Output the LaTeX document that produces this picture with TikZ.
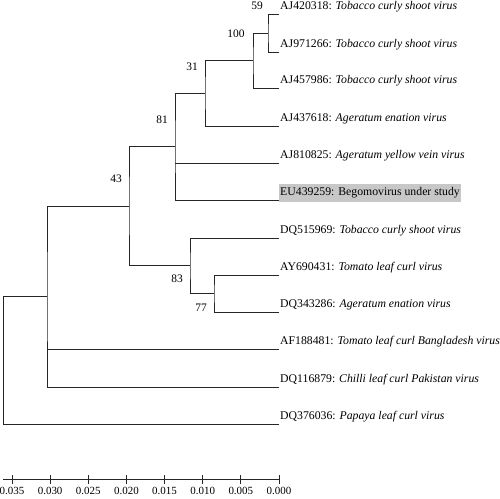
\documentclass[tikz,border=0pt]{standalone}
\usepackage{fontspec}
\setmainfont{Liberation Serif}
\usetikzlibrary{positioning}

\begin{document}
\begin{tikzpicture}[
  x=1bp, y=-1bp,
  font=\fontsize{11.8}{13}\selectfont,
  branch/.style={draw=black!85, line width=0.8bp},
  taxon/.style={anchor=base west, inner xsep=1bp, inner ysep=3.5bp,
                text height=8bp, text depth=2.5bp},
  study/.style={taxon, fill=black!22},
  boot/.style={inner sep=0pt, font=\fontsize{11.5}{13}\selectfont},
  ticklab/.style={inner sep=0pt, font=\fontsize{11}{13}\selectfont}]
\useasboundingbox (0,0) rectangle (500,499);
% leaves
\coordinate (l1) at (279,14);
\coordinate (l2) at (279,52);
\coordinate (l3) at (279,88);
\coordinate (l4) at (279,126);
\coordinate (l5) at (279,163);
\coordinate (l6) at (279,200);
\coordinate (l7) at (279,238);
\coordinate (l8) at (279,275);
\coordinate (l9) at (279,312);
\coordinate (l10) at (279,349);
\coordinate (l11) at (279,387);
\coordinate (l12) at (279,424);
% internal nodes
\coordinate (n59) at (268,33);
\coordinate (n100) at (253,60.5);
\coordinate (n31) at (205,93);
\coordinate (n81) at (175,146.5);
\coordinate (n77) at (214,293.5);
\coordinate (n83) at (190,265.75);
\coordinate (n43) at (129,206);
\coordinate (nA) at (47,296.5);
\coordinate (root) at (3.5,360);
% taxon labels
\node[taxon] (t1) at ([yshift=4.5bp]l1) {AJ420318: \textit{Tobacco curly shoot virus}};
\node[taxon] (t2) at ([yshift=4.5bp]l2) {AJ971266: \textit{Tobacco curly shoot virus}};
\node[taxon] (t3) at ([yshift=4.5bp]l3) {AJ457986: \textit{Tobacco curly shoot virus}};
\node[taxon] (t4) at ([yshift=4.5bp]l4) {AJ437618: \textit{Ageratum enation virus}};
\node[taxon] (t5) at ([yshift=4.5bp]l5) {AJ810825: \textit{Ageratum yellow vein virus}};
\node[study] (t6) at ([yshift=4.5bp]l6) {EU439259: Begomovirus under study\hspace{5bp}};
\node[taxon] (t7) at ([yshift=4.5bp]l7) {DQ515969: \textit{Tobacco curly shoot virus}};
\node[taxon] (t8) at ([yshift=4.5bp]l8) {AY690431: \textit{Tomato leaf curl virus}};
\node[taxon] (t9) at ([yshift=4.5bp]l9) {DQ343286: \textit{Ageratum enation virus}};
\node[taxon] (t10) at ([yshift=4.5bp]l10) {AF188481: \textit{Tomato leaf curl Bangladesh virus}};
\node[taxon] (t11) at ([yshift=4.5bp]l11) {DQ116879: \textit{Chilli leaf curl Pakistan virus}};
\node[taxon] (t12) at ([yshift=4.5bp]l12) {DQ376036: \textit{Papaya leaf curl virus}};
% branches
\draw[branch] (l1) -| (n59) |- (l2);
\draw[branch] (n59) -| (n100) |- (l3);
\draw[branch] (n100) -| (n31) |- (l4);
\draw[branch] (n31) -| (n81) |- (l6);
\draw[branch] (n81 |- l5) -- (l5);
\draw[branch] (l8) -| (n77) |- (l9);
\draw[branch] (l7) -| (n83) |- (n77);
\draw[branch] (n81) -| (n43) |- (n83);
\draw[branch] (n43) -| (nA) |- (l11);
\draw[branch] (nA |- l10) -- (l10);
\draw[branch] (nA) -| (root) |- (l12);
% bootstrap values
\node[boot] (b59) at (257,6) {59};
\node[boot] (b100) at (236,34) {100};
\node[boot] (b31) at (192,67) {31};
\node[boot] (b81) at (162,120) {81};
\node[boot] (b43) at (116,179) {43};
\node[boot] (b83) at (177,279) {83};
\node[boot] (b77) at (201,308) {77};
% scale
\coordinate (s0) at (3,479);
\coordinate (s1) at (279,479);
\draw[branch] (s0) -- (s1);
\foreach \v/\lab in {0/0.035,1/0.030,2/0.025,3/0.020,4/0.015,5/0.010,6/0.005,7/0.000} {
  \coordinate (tk\v) at (12+38.14*\v,479);
  \draw[branch] ([yshift=4bp]tk\v) -- ([yshift=-5bp]tk\v);
  \node[ticklab] (tl\v) at ([yshift=-12bp]tk\v) {\lab};
}
\end{tikzpicture}
\end{document}
